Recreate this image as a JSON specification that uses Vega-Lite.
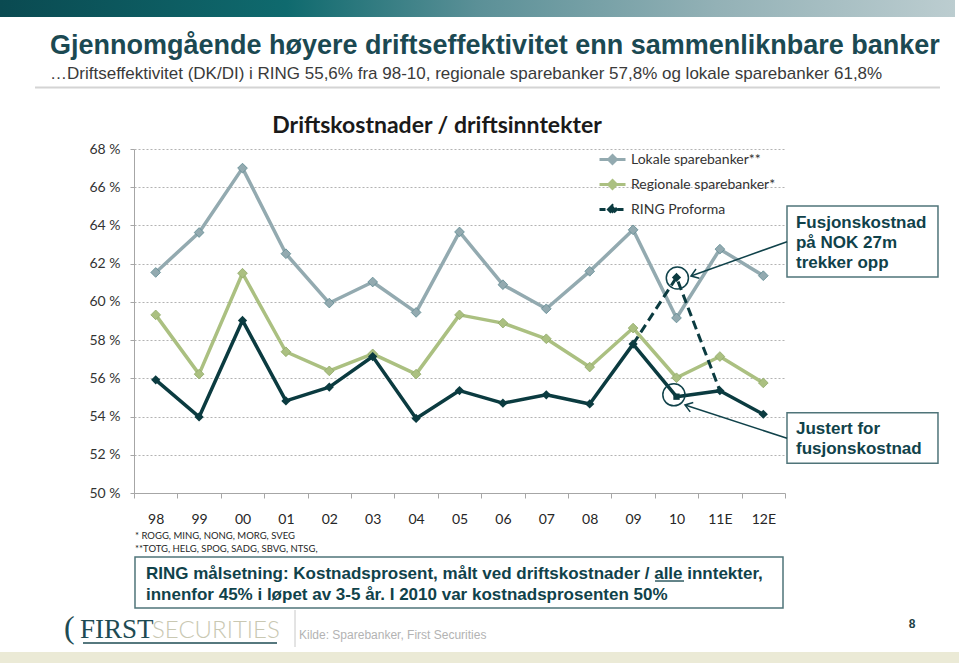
{
  "$schema": "https://vega.github.io/schema/vega-lite/v6.json",
  "width": 651,
  "height": 344,
  "autosize": {"type": "none"},
  "padding": {"left": 134, "top": 149, "right": 174, "bottom": 170},
  "background": "white",
  "config": {"view": {"stroke": null}, "font": "Lato"},
  "datasets": {
    "banker": [
      {"year": "98", "series": "Lokale sparebanker**", "value": 61.54},
      {"year": "99", "series": "Lokale sparebanker**", "value": 63.63},
      {"year": "00", "series": "Lokale sparebanker**", "value": 67.0},
      {"year": "01", "series": "Lokale sparebanker**", "value": 62.52},
      {"year": "02", "series": "Lokale sparebanker**", "value": 59.94},
      {"year": "03", "series": "Lokale sparebanker**", "value": 61.04},
      {"year": "04", "series": "Lokale sparebanker**", "value": 59.45},
      {"year": "05", "series": "Lokale sparebanker**", "value": 63.66},
      {"year": "06", "series": "Lokale sparebanker**", "value": 60.9},
      {"year": "07", "series": "Lokale sparebanker**", "value": 59.64},
      {"year": "08", "series": "Lokale sparebanker**", "value": 61.6},
      {"year": "09", "series": "Lokale sparebanker**", "value": 63.77},
      {"year": "10", "series": "Lokale sparebanker**", "value": 59.16},
      {"year": "11E", "series": "Lokale sparebanker**", "value": 62.76},
      {"year": "12E", "series": "Lokale sparebanker**", "value": 61.37},
      {"year": "98", "series": "Regionale sparebanker*", "value": 59.32},
      {"year": "99", "series": "Regionale sparebanker*", "value": 56.22},
      {"year": "00", "series": "Regionale sparebanker*", "value": 61.5},
      {"year": "01", "series": "Regionale sparebanker*", "value": 57.39},
      {"year": "02", "series": "Regionale sparebanker*", "value": 56.39},
      {"year": "03", "series": "Regionale sparebanker*", "value": 57.28},
      {"year": "04", "series": "Regionale sparebanker*", "value": 56.22},
      {"year": "05", "series": "Regionale sparebanker*", "value": 59.32},
      {"year": "06", "series": "Regionale sparebanker*", "value": 58.89},
      {"year": "07", "series": "Regionale sparebanker*", "value": 58.07},
      {"year": "08", "series": "Regionale sparebanker*", "value": 56.59},
      {"year": "09", "series": "Regionale sparebanker*", "value": 58.63},
      {"year": "10", "series": "Regionale sparebanker*", "value": 56.03},
      {"year": "11E", "series": "Regionale sparebanker*", "value": 57.14},
      {"year": "12E", "series": "Regionale sparebanker*", "value": 55.76},
      {"year": "98", "series": "RING Proforma", "value": 55.92},
      {"year": "99", "series": "RING Proforma", "value": 53.98},
      {"year": "00", "series": "RING Proforma", "value": 59.03},
      {"year": "01", "series": "RING Proforma", "value": 54.82},
      {"year": "02", "series": "RING Proforma", "value": 55.54},
      {"year": "03", "series": "RING Proforma", "value": 57.14},
      {"year": "04", "series": "RING Proforma", "value": 53.9},
      {"year": "05", "series": "RING Proforma", "value": 55.36},
      {"year": "06", "series": "RING Proforma", "value": 54.7},
      {"year": "07", "series": "RING Proforma", "value": 55.14},
      {"year": "08", "series": "RING Proforma", "value": 54.66},
      {"year": "09", "series": "RING Proforma", "value": 57.79},
      {"year": "10", "series": "RING Proforma", "value": 55.04},
      {"year": "11E", "series": "RING Proforma", "value": 55.35},
      {"year": "12E", "series": "RING Proforma", "value": 54.12}
    ],
    "fusjon": [
      {"year": "09", "value": 57.79},
      {"year": "10", "value": 61.28},
      {"year": "11E", "value": 55.35}
    ]
  },
  "layer": [
    {
      "data": {"name": "banker"},
      "encoding": {
        "x": {
          "field": "year", "type": "ordinal", "bandPosition": 0.5,
          "scale": {"type": "band", "domain": ["98", "99", "00", "01", "02", "03", "04", "05", "06", "07", "08", "09", "10", "11E", "12E"], "paddingInner": 0, "paddingOuter": 0},
          "axis": {"title": null, "grid": false, "domainColor": "#a6a6a6", "domainWidth": 1, "tickColor": "#a6a6a6", "tickSize": 5, "tickBand": "extent", "labelFont": "Lato", "labelFontSize": 14, "labelColor": "#262626", "labelPadding": 25, "labelBaseline": "alphabetic", "labelAngle": 0}
        },
        "y": {
          "field": "value", "type": "quantitative",
          "scale": {"domain": [50, 68], "nice": false, "zero": false},
          "axis": {"title": null, "values": [50, 52, 54, 56, 58, 60, 62, 64, 66, 68], "domainColor": "#a6a6a6", "tickColor": "#a6a6a6", "tickSize": 4, "grid": true, "gridColor": "#a0a0a0", "gridDash": [2, 2], "gridWidth": 0.8, "labelExpr": "datum.value + ' %'", "labelFont": "Lato", "labelFontSize": 14, "labelColor": "#333333", "labelPadding": 10}
        }
      },
      "layer": [
        {
          "transform": [{"filter": "datum.series !== 'RING Proforma'"}],
          "mark": {"type": "line", "strokeWidth": 3.5, "strokeJoin": "round"},
          "encoding": {
            "color": {
              "field": "series", "type": "nominal",
              "scale": {"domain": ["Lokale sparebanker**", "Regionale sparebanker*", "RING Proforma"], "range": ["#93aab0", "#abc081", "#0b3b40"]},
              "legend": {
                "title": null, "orient": "none", "legendX": 464, "legendY": -4,
                "padding": 0, "symbolType": "M-1,0L1,0M-0.3,0L0,-0.3L0.3,0L0,0.3Z", "symbolSize": 676, "symbolStrokeWidth": 3,
                "labelFont": "Lato", "labelFontSize": 14, "labelColor": "#333333", "labelOffset": 4, "rowPadding": 0,
                "encode": {"symbols": {"update": {"fill": {"scale": "color", "field": "value"}, "stroke": {"scale": "color", "field": "value"}, "strokeDash": {"signal": "datum.value === 'RING Proforma' ? [6, 3] : []"}}}}
              }
            }
          }
        },
        {
          "transform": [{"filter": "datum.series !== 'RING Proforma'"}],
          "mark": {"type": "point", "filled": true, "shape": "diamond", "size": 95, "strokeWidth": 0.8, "opacity": 1},
          "encoding": {
            "color": {"field": "series", "type": "nominal", "scale": {"domain": ["Lokale sparebanker**", "Regionale sparebanker*", "RING Proforma"], "range": ["#93aab0", "#abc081", "#0b3b40"]}},
            "stroke": {"field": "series", "type": "nominal", "scale": {"domain": ["Lokale sparebanker**", "Regionale sparebanker*", "RING Proforma"], "range": ["#5e8a92", "#90a96a", "#0b3b40"]}, "legend": null}
          }
        },
        {
          "transform": [{"filter": "datum.series === 'RING Proforma'"}],
          "mark": {"type": "line", "strokeWidth": 3.5, "strokeJoin": "round"},
          "encoding": {
            "color": {"field": "series", "type": "nominal", "scale": {"domain": ["Lokale sparebanker**", "Regionale sparebanker*", "RING Proforma"], "range": ["#93aab0", "#abc081", "#0b3b40"]}}
          }
        },
        {
          "data": {"name": "fusjon"},
          "mark": {"type": "line", "strokeWidth": 3, "strokeDash": [9, 5], "color": "#0b3b40"}
        },
        {
          "transform": [{"filter": "datum.series === 'RING Proforma'"}],
          "mark": {"type": "point", "filled": true, "opacity": 1},
          "encoding": {
            "color": {"field": "series", "type": "nominal", "scale": {"domain": ["Lokale sparebanker**", "Regionale sparebanker*", "RING Proforma"], "range": ["#93aab0", "#abc081", "#0b3b40"]}},
            "shape": {"condition": {"test": "datum.year === '10'", "value": "square"}, "value": "diamond"},
            "size": {"condition": {"test": "datum.year === '10'", "value": 40}, "value": 85}
          }
        },
        {
          "data": {"name": "fusjon"},
          "transform": [{"filter": "datum.year === '10'"}],
          "mark": {"type": "point", "filled": true, "shape": "diamond", "size": 85, "color": "#0b3b40", "opacity": 1}
        }
      ]
    },
    {
      "data": {"values": [{}]},
      "layer": [
        {
          "mark": {"type": "rect", "color": {"gradient": "linear", "stops": [{"offset": 0, "color": "#0a4a51"}, {"offset": 0.3, "color": "#0f6a6e"}, {"offset": 0.5, "color": "#5b9097"}, {"offset": 0.75, "color": "#93b1b6"}, {"offset": 1, "color": "#bccdd0"}]}},
          "encoding": {
            "x": {"datum": -3.088, "type": "quantitative", "scale": {"domain": [0, 15], "nice": false, "zero": false}, "axis": null},
            "x2": {"datum": 18.917},
            "y": {"datum": 75.797, "type": "quantitative", "scale": {"domain": [50, 68], "nice": false, "zero": false}, "axis": null},
            "y2": {"datum": 74.907}
          }
        },
        {
          "mark": {"type": "text", "text": "Gjennomgående høyere driftseffektivitet enn sammenliknbare banker", "font": "Liberation Sans", "fontWeight": "bold", "fontSize": 27, "color": "#1b4952", "align": "left", "baseline": "alphabetic"},
          "encoding": {
            "x": {"datum": -1.935, "type": "quantitative", "scale": {"domain": [0, 15], "nice": false, "zero": false}, "axis": null},
            "y": {"datum": 72.997, "type": "quantitative", "scale": {"domain": [50, 68], "nice": false, "zero": false}, "axis": null}
          }
        },
        {
          "mark": {"type": "text", "text": "…Driftseffektivitet (DK/DI) i RING 55,6% fra 98-10, regionale sparebanker 57,8% og lokale sparebanker 61,8%", "font": "Liberation Sans", "fontSize": 17, "color": "#3a3a3a", "align": "left", "baseline": "alphabetic"},
          "encoding": {
            "x": {"datum": -1.935, "type": "quantitative", "scale": {"domain": [0, 15], "nice": false, "zero": false}, "axis": null},
            "y": {"datum": 71.663, "type": "quantitative", "scale": {"domain": [50, 68], "nice": false, "zero": false}, "axis": null}
          }
        },
        {
          "mark": {"type": "rule", "color": "#d4d4d4", "strokeWidth": 2},
          "encoding": {
            "x": {"datum": -2.281, "type": "quantitative", "scale": {"domain": [0, 15], "nice": false, "zero": false}, "axis": null},
            "x2": {"datum": 18.571},
            "y": {"datum": 71.218, "type": "quantitative", "scale": {"domain": [50, 68], "nice": false, "zero": false}, "axis": null}
          }
        },
        {
          "mark": {"type": "text", "text": "Driftskostnader / driftsinntekter", "font": "Lato", "fontWeight": "bold", "fontSize": 23, "color": "#1a1a1a", "align": "center", "baseline": "alphabetic"},
          "encoding": {
            "x": {"datum": 6.982, "type": "quantitative", "scale": {"domain": [0, 15], "nice": false, "zero": false}, "axis": null},
            "y": {"datum": 68.837, "type": "quantitative", "scale": {"domain": [50, 68], "nice": false, "zero": false}, "axis": null}
          }
        },
        {
          "mark": {"type": "text", "text": ["* ROGG, MING, NONG, MORG, SVEG", "**TOTG, HELG, SPOG, SADG, SBVG, NTSG,"], "lineHeight": 13, "font": "Lato", "fontSize": 9.5, "color": "#262626", "align": "left", "baseline": "alphabetic"},
          "encoding": {
            "x": {"datum": 0.023, "type": "quantitative", "scale": {"domain": [0, 15], "nice": false, "zero": false}, "axis": null},
            "y": {"datum": 47.593, "type": "quantitative", "scale": {"domain": [50, 68], "nice": false, "zero": false}, "axis": null}
          }
        },
        {
          "mark": {"type": "rect", "fill": "white", "stroke": "#4f7479", "strokeWidth": 1.5},
          "encoding": {
            "x": {"datum": 0.023, "type": "quantitative", "scale": {"domain": [0, 15], "nice": false, "zero": false}, "axis": null},
            "x2": {"datum": 14.954},
            "y": {"datum": 46.651, "type": "quantitative", "scale": {"domain": [50, 68], "nice": false, "zero": false}, "axis": null},
            "y2": {"datum": 43.982}
          }
        },
        {
          "mark": {"type": "text", "text": ["RING målsetning: Kostnadsprosent, målt ved driftskostnader / alle inntekter,", "innenfor 45% i løpet av 3-5 år. I 2010 var kostnadsprosenten 50%"], "lineHeight": 21, "font": "Liberation Sans", "fontWeight": "bold", "fontSize": 17, "color": "#10424a", "align": "left", "baseline": "alphabetic"},
          "encoding": {
            "x": {"datum": 0.276, "type": "quantitative", "scale": {"domain": [0, 15], "nice": false, "zero": false}, "axis": null},
            "y": {"datum": 45.5, "type": "quantitative", "scale": {"domain": [50, 68], "nice": false, "zero": false}, "axis": null}
          }
        },
        {
          "mark": {"type": "rule", "color": "#10424a", "strokeWidth": 1.3},
          "encoding": {
            "x": {"datum": 12.005, "type": "quantitative", "scale": {"domain": [0, 15], "nice": false, "zero": false}, "axis": null},
            "x2": {"datum": 12.673},
            "y": {"datum": 45.395, "type": "quantitative", "scale": {"domain": [50, 68], "nice": false, "zero": false}, "axis": null}
          }
        },
        {
          "mark": {"type": "rect", "fill": "white", "stroke": "#4f7479", "strokeWidth": 1.5},
          "encoding": {
            "x": {"datum": 15.046, "type": "quantitative", "scale": {"domain": [0, 15], "nice": false, "zero": false}, "axis": null},
            "x2": {"datum": 18.525},
            "y": {"datum": 65.017, "type": "quantitative", "scale": {"domain": [50, 68], "nice": false, "zero": false}, "axis": null},
            "y2": {"datum": 61.302}
          }
        },
        {
          "mark": {"type": "text", "text": ["Fusjonskostnad", "på NOK 27m", "trekker opp"], "lineHeight": 20.2, "font": "Liberation Sans", "fontWeight": "bold", "fontSize": 17, "color": "#10424a", "align": "left", "baseline": "alphabetic"},
          "encoding": {
            "x": {"datum": 15.253, "type": "quantitative", "scale": {"domain": [0, 15], "nice": false, "zero": false}, "axis": null},
            "y": {"datum": 63.866, "type": "quantitative", "scale": {"domain": [50, 68], "nice": false, "zero": false}, "axis": null}
          }
        },
        {
          "mark": {"type": "rect", "fill": "white", "stroke": "#4f7479", "strokeWidth": 1.5},
          "encoding": {
            "x": {"datum": 15.046, "type": "quantitative", "scale": {"domain": [0, 15], "nice": false, "zero": false}, "axis": null},
            "x2": {"datum": 18.525},
            "y": {"datum": 54.202, "type": "quantitative", "scale": {"domain": [50, 68], "nice": false, "zero": false}, "axis": null},
            "y2": {"datum": 51.554}
          }
        },
        {
          "mark": {"type": "text", "text": ["Justert for", "fusjonskostnad"], "lineHeight": 20, "font": "Liberation Sans", "fontWeight": "bold", "fontSize": 17, "color": "#10424a", "align": "left", "baseline": "alphabetic"},
          "encoding": {
            "x": {"datum": 15.253, "type": "quantitative", "scale": {"domain": [0, 15], "nice": false, "zero": false}, "axis": null},
            "y": {"datum": 53.087, "type": "quantitative", "scale": {"domain": [50, 68], "nice": false, "zero": false}, "axis": null}
          }
        },
        {
          "mark": {"type": "point", "shape": "circle", "size": 491, "filled": false, "stroke": "#10424a", "strokeWidth": 1.5, "opacity": 1},
          "encoding": {
            "x": {"datum": 12.52, "type": "quantitative", "scale": {"domain": [0, 15], "nice": false, "zero": false}, "axis": null},
            "y": {"datum": 61.25, "type": "quantitative", "scale": {"domain": [50, 68], "nice": false, "zero": false}, "axis": null}
          }
        },
        {
          "mark": {"type": "point", "shape": "circle", "size": 491, "filled": false, "stroke": "#10424a", "strokeWidth": 1.5, "opacity": 1},
          "encoding": {
            "x": {"datum": 12.44, "type": "quantitative", "scale": {"domain": [0, 15], "nice": false, "zero": false}, "axis": null},
            "y": {"datum": 55.14, "type": "quantitative", "scale": {"domain": [50, 68], "nice": false, "zero": false}, "axis": null}
          }
        },
        {
          "mark": {"type": "rule", "color": "#10424a", "strokeWidth": 1.5},
          "encoding": {
            "x": {"datum": 15.046, "type": "quantitative", "scale": {"domain": [0, 15], "nice": false, "zero": false}, "axis": null},
            "x2": {"datum": 12.834},
            "y": {"datum": 63.149, "type": "quantitative", "scale": {"domain": [50, 68], "nice": false, "zero": false}, "axis": null},
            "y2": {"datum": 61.355}
          }
        },
        {
          "mark": {"type": "point", "shape": "M1,-0.7L0,0L1,0.7", "size": 200, "filled": false, "stroke": "#10424a", "strokeWidth": 1.5, "angle": -19.6, "opacity": 1},
          "encoding": {
            "x": {"datum": 12.834, "type": "quantitative", "scale": {"domain": [0, 15], "nice": false, "zero": false}, "axis": null},
            "y": {"datum": 61.355, "type": "quantitative", "scale": {"domain": [50, 68], "nice": false, "zero": false}, "axis": null}
          }
        },
        {
          "mark": {"type": "rule", "color": "#10424a", "strokeWidth": 1.5},
          "encoding": {
            "x": {"datum": 15.046, "type": "quantitative", "scale": {"domain": [0, 15], "nice": false, "zero": false}, "axis": null},
            "x2": {"datum": 12.696},
            "y": {"datum": 52.862, "type": "quantitative", "scale": {"domain": [50, 68], "nice": false, "zero": false}, "axis": null},
            "y2": {"datum": 54.605}
          }
        },
        {
          "mark": {"type": "point", "shape": "M1,-0.7L0,0L1,0.7", "size": 200, "filled": false, "stroke": "#10424a", "strokeWidth": 1.5, "angle": 18, "opacity": 1},
          "encoding": {
            "x": {"datum": 12.696, "type": "quantitative", "scale": {"domain": [0, 15], "nice": false, "zero": false}, "axis": null},
            "y": {"datum": 54.605, "type": "quantitative", "scale": {"domain": [50, 68], "nice": false, "zero": false}, "axis": null}
          }
        },
        {
          "mark": {"type": "text", "text": "(", "font": "Liberation Serif", "fontSize": 32, "color": "#1e4b53", "align": "left", "baseline": "alphabetic"},
          "encoding": {
            "x": {"datum": -1.613, "type": "quantitative", "scale": {"domain": [0, 15], "nice": false, "zero": false}, "axis": null},
            "y": {"datum": 42.412, "type": "quantitative", "scale": {"domain": [50, 68], "nice": false, "zero": false}, "axis": null}
          }
        },
        {
          "mark": {"type": "text", "text": "FIRST", "font": "Liberation Serif", "fontSize": 27, "color": "#1e4b53", "align": "left", "baseline": "alphabetic"},
          "encoding": {
            "x": {"datum": -1.244, "type": "quantitative", "scale": {"domain": [0, 15], "nice": false, "zero": false}, "axis": null},
            "y": {"datum": 42.397, "type": "quantitative", "scale": {"domain": [50, 68], "nice": false, "zero": false}, "axis": null}
          }
        },
        {
          "mark": {"type": "text", "text": "SECURITIES", "font": "Lato", "fontWeight": 300, "fontSize": 24, "color": "#c9c8b2", "align": "left", "baseline": "alphabetic"},
          "encoding": {
            "x": {"datum": 0.415, "type": "quantitative", "scale": {"domain": [0, 15], "nice": false, "zero": false}, "axis": null},
            "y": {"datum": 42.397, "type": "quantitative", "scale": {"domain": [50, 68], "nice": false, "zero": false}, "axis": null}
          }
        },
        {
          "mark": {"type": "rule", "color": "#1e4b53", "strokeWidth": 1.5},
          "encoding": {
            "x": {"datum": -1.175, "type": "quantitative", "scale": {"domain": [0, 15], "nice": false, "zero": false}, "axis": null},
            "x2": {"datum": 3.295},
            "y": {"datum": 42.151, "type": "quantitative", "scale": {"domain": [50, 68], "nice": false, "zero": false}, "axis": null}
          }
        },
        {
          "mark": {"type": "rule", "color": "#c8c8c8", "strokeWidth": 1},
          "encoding": {
            "x": {"datum": 3.71, "type": "quantitative", "scale": {"domain": [0, 15], "nice": false, "zero": false}, "axis": null},
            "y": {"datum": 43.878, "type": "quantitative", "scale": {"domain": [50, 68], "nice": false, "zero": false}, "axis": null},
            "y2": {"datum": 41.941}
          }
        },
        {
          "mark": {"type": "text", "text": "Kilde: Sparebanker, First Securities", "font": "Liberation Sans", "fontSize": 12, "color": "#b3b3b3", "align": "left", "baseline": "alphabetic"},
          "encoding": {
            "x": {"datum": 3.802, "type": "quantitative", "scale": {"domain": [0, 15], "nice": false, "zero": false}, "axis": null},
            "y": {"datum": 42.386, "type": "quantitative", "scale": {"domain": [50, 68], "nice": false, "zero": false}, "axis": null}
          }
        },
        {
          "mark": {"type": "text", "text": "8", "font": "Liberation Sans", "fontWeight": "bold", "fontSize": 12, "color": "#1d3f45", "align": "center", "baseline": "alphabetic"},
          "encoding": {
            "x": {"datum": 17.926, "type": "quantitative", "scale": {"domain": [0, 15], "nice": false, "zero": false}, "axis": null},
            "y": {"datum": 42.936, "type": "quantitative", "scale": {"domain": [50, 68], "nice": false, "zero": false}, "axis": null}
          }
        },
        {
          "mark": {"type": "rect", "color": "#ebead6"},
          "encoding": {
            "x": {"datum": -3.088, "type": "quantitative", "scale": {"domain": [0, 15], "nice": false, "zero": false}, "axis": null},
            "x2": {"datum": 19.009},
            "y": {"datum": 41.68, "type": "quantitative", "scale": {"domain": [50, 68], "nice": false, "zero": false}, "axis": null},
            "y2": {"datum": 41.0}
          }
        }
      ]
    }
  ],
  "resolve": {"scale": {"x": "independent", "y": "independent"}}
}
